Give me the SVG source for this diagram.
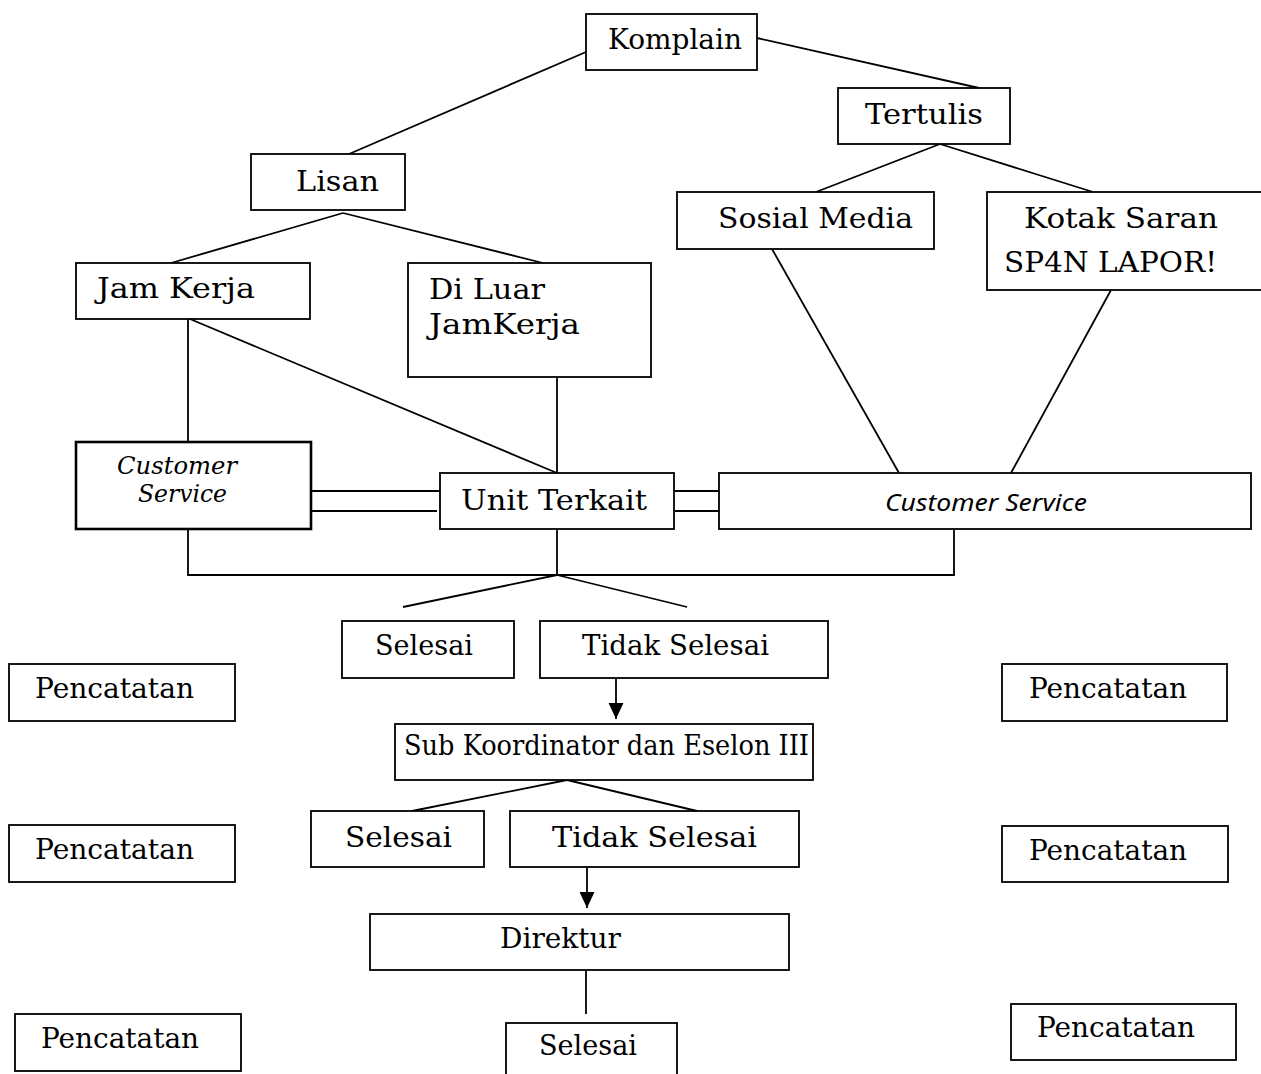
<svg xmlns="http://www.w3.org/2000/svg" width="1261" height="1074" viewBox="0 0 1261 1074">
<defs>
<style>
rect{fill:#fff;stroke:#000;stroke-width:1.8}
rect.thick{stroke-width:2.6}
text{font-family:"DejaVu Serif","Liberation Serif",serif;fill:#000;font-size:28px}
text.it{font-style:italic;font-size:24px}
text.sans{font-family:"Noto Sans","Liberation Sans",sans-serif;font-style:italic;font-size:24px}
#connectors line,#connectors polyline{stroke:#000;stroke-width:1.8;fill:none}
</style>
<marker id="arr" markerUnits="userSpaceOnUse" markerWidth="16" markerHeight="16" refX="15" refY="7" orient="auto" viewBox="0 0 15 14">
<path d="M0,0 L15,7 L0,14 Z" fill="#000"/>
</marker>
</defs>
<g id="connectors">
<line x1="586" y1="52" x2="349" y2="154"/>
<line x1="757" y1="38" x2="979" y2="88"/>
<line x1="940" y1="144" x2="816" y2="192"/>
<line x1="940" y1="144" x2="1093" y2="192"/>
<line x1="343" y1="213" x2="171" y2="263"/>
<line x1="343" y1="213" x2="543" y2="263"/>
<line x1="188" y1="319" x2="188" y2="442"/>
<line x1="190" y1="319" x2="557" y2="473"/>
<line x1="557" y1="377" x2="557" y2="473"/>
<line x1="772" y1="249" x2="899" y2="473"/>
<line x1="1111" y1="290" x2="1011" y2="473"/>
<line x1="311" y1="491" x2="440" y2="491"/>
<line x1="308" y1="511" x2="437" y2="511"/>
<line x1="675" y1="491" x2="719" y2="491"/>
<line x1="675" y1="511" x2="719" y2="511"/>
<polyline points="188,529 188,575 954,575 954,529"/>
<line x1="557" y1="529" x2="557" y2="575"/>
<line x1="557" y1="575" x2="403" y2="607"/>
<line x1="557" y1="575" x2="687" y2="607"/>
<line x1="616" y1="678" x2="616" y2="719" marker-end="url(#arr)"/>
<line x1="567" y1="780" x2="412" y2="811"/>
<line x1="567" y1="780" x2="697" y2="811"/>
<line x1="587" y1="867" x2="587" y2="908" marker-end="url(#arr)"/>
<line x1="586" y1="970" x2="586" y2="1014"/>
</g>
<g id="n-komplain"><rect x="586" y="14" width="171" height="56"/><text x="608" y="49" textLength="134" lengthAdjust="spacingAndGlyphs">Komplain</text></g>
<g id="n-tertulis"><rect x="838" y="88" width="172" height="56"/><text x="865" y="124" textLength="118" lengthAdjust="spacingAndGlyphs" font-size="30">Tertulis</text></g>
<g id="n-lisan"><rect x="251" y="154" width="154" height="56"/><text x="296" y="191" textLength="83" lengthAdjust="spacingAndGlyphs" font-size="30">Lisan</text></g>
<g id="n-sosial"><rect x="677" y="192" width="257" height="57"/><text x="718" y="228" textLength="195" lengthAdjust="spacingAndGlyphs" font-size="30">Sosial Media</text></g>
<g id="n-kotak"><rect x="987" y="192" width="280" height="98"/><text x="1024" y="228" textLength="194" lengthAdjust="spacingAndGlyphs" font-size="30">Kotak Saran</text><text x="1004" y="272" textLength="213" lengthAdjust="spacingAndGlyphs" font-size="30">SP4N LAPOR!</text></g>
<g id="n-jamkerja"><rect x="76" y="263" width="234" height="56"/><text x="97" y="298" textLength="158" lengthAdjust="spacingAndGlyphs" font-size="30">Jam Kerja</text></g>
<g id="n-diluar"><rect x="408" y="263" width="243" height="114"/><text x="429" y="299" textLength="116" lengthAdjust="spacingAndGlyphs" font-size="30">Di Luar</text><text x="429" y="334" textLength="151" lengthAdjust="spacingAndGlyphs" font-size="30">JamKerja</text></g>
<g id="n-cs-left"><rect class="thick" x="76" y="442" width="235" height="87"/><text class="it" x="117" y="474" textLength="120" lengthAdjust="spacingAndGlyphs">Customer</text><text class="it" x="138" y="502" textLength="89" lengthAdjust="spacingAndGlyphs">Service</text></g>
<g id="n-unit"><rect x="440" y="473" width="234" height="56"/><text x="461" y="510" textLength="186" lengthAdjust="spacingAndGlyphs" font-size="30">Unit Terkait</text></g>
<g id="n-cs-right"><rect x="719" y="473" width="532" height="56"/><text class="sans" x="885" y="511" textLength="202" lengthAdjust="spacingAndGlyphs">Customer Service</text></g>
<g id="n-selesai1"><rect x="342" y="621" width="172" height="57"/><text x="375" y="655" textLength="98" lengthAdjust="spacingAndGlyphs" font-size="26">Selesai</text></g>
<g id="n-tidak1"><rect x="540" y="621" width="288" height="57"/><text x="582" y="655" textLength="187" lengthAdjust="spacingAndGlyphs" font-size="26">Tidak Selesai</text></g>
<g id="n-pencatatan-l1"><rect x="9" y="664" width="226" height="57"/><text x="35" y="698" textLength="159" lengthAdjust="spacingAndGlyphs" font-size="27">Pencatatan</text></g>
<g id="n-pencatatan-r1"><rect x="1002" y="664" width="225" height="57"/><text x="1029" y="698" textLength="158" lengthAdjust="spacingAndGlyphs" font-size="27">Pencatatan</text></g>
<g id="n-sub"><rect x="395" y="724" width="418" height="56"/><text x="404" y="755" textLength="405" lengthAdjust="spacingAndGlyphs" font-size="20">Sub Koordinator dan Eselon III</text></g>
<g id="n-selesai2"><rect x="311" y="811" width="173" height="56"/><text x="345" y="847" textLength="107" lengthAdjust="spacingAndGlyphs" font-size="29">Selesai</text></g>
<g id="n-tidak2"><rect x="510" y="811" width="289" height="56"/><text x="552" y="847" textLength="205" lengthAdjust="spacingAndGlyphs" font-size="29">Tidak Selesai</text></g>
<g id="n-pencatatan-l2"><rect x="9" y="825" width="226" height="57"/><text x="35" y="859" textLength="159" lengthAdjust="spacingAndGlyphs" font-size="27">Pencatatan</text></g>
<g id="n-pencatatan-r2"><rect x="1002" y="826" width="226" height="56"/><text x="1029" y="860" textLength="158" lengthAdjust="spacingAndGlyphs" font-size="27">Pencatatan</text></g>
<g id="n-direktur"><rect x="370" y="914" width="419" height="56"/><text x="500" y="948" textLength="121" lengthAdjust="spacingAndGlyphs" font-size="26">Direktur</text></g>
<g id="n-pencatatan-l3"><rect x="15" y="1014" width="226" height="57"/><text x="41" y="1048" textLength="158" lengthAdjust="spacingAndGlyphs" font-size="27">Pencatatan</text></g>
<g id="n-selesai3"><rect x="506" y="1023" width="171" height="60"/><text x="539" y="1055" textLength="98" lengthAdjust="spacingAndGlyphs" font-size="26">Selesai</text></g>
<g id="n-pencatatan-r3"><rect x="1011" y="1004" width="225" height="56"/><text x="1037" y="1037" textLength="158" lengthAdjust="spacingAndGlyphs" font-size="27">Pencatatan</text></g>
</svg>
